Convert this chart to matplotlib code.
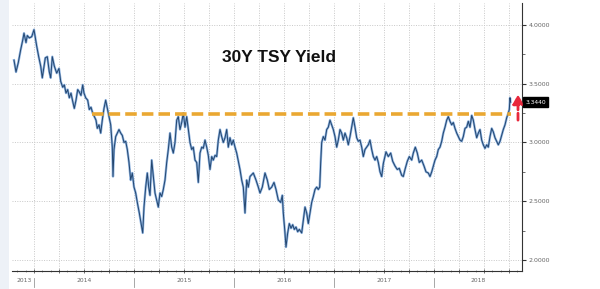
import matplotlib
matplotlib.use("Agg")
import matplotlib.pyplot as plt
import matplotlib.transforms as mtransforms
from matplotlib.patches import Rectangle
from matplotlib.ticker import MultipleLocator, FormatStrFormatter

# ---------------- data ----------------
years = [
    2013.800, 2013.820, 2013.843, 2013.867, 2013.887, 2013.900, 2013.920, 2013.933, 2013.953, 2013.977,
    2014.000, 2014.013, 2014.027, 2014.047, 2014.067, 2014.083, 2014.097, 2014.113, 2014.133, 2014.153,
    2014.167, 2014.183, 2014.203, 2014.227, 2014.250, 2014.267, 2014.287, 2014.303, 2014.320, 2014.337,
    2014.353, 2014.370, 2014.387, 2014.403, 2014.420, 2014.437, 2014.453, 2014.470, 2014.487, 2014.500,
    2014.517, 2014.537, 2014.553, 2014.570, 2014.587, 2014.603, 2014.620, 2014.633, 2014.650, 2014.667,
    2014.683, 2014.700, 2014.717, 2014.733, 2014.750, 2014.767, 2014.783, 2014.790, 2014.800, 2014.817,
    2014.833, 2014.850, 2014.867, 2014.883, 2014.900, 2014.917, 2014.933, 2014.950, 2014.967, 2014.983,
    2015.000, 2015.017, 2015.033, 2015.053, 2015.077, 2015.087, 2015.100, 2015.117, 2015.133, 2015.147,
    2015.160, 2015.177, 2015.193, 2015.210, 2015.227, 2015.243, 2015.260, 2015.277, 2015.293, 2015.310,
    2015.327, 2015.343, 2015.360, 2015.377, 2015.393, 2015.410, 2015.427, 2015.443, 2015.460, 2015.477,
    2015.493, 2015.510, 2015.527, 2015.543, 2015.560, 2015.577, 2015.593, 2015.610, 2015.627, 2015.643,
    2015.660, 2015.677, 2015.693, 2015.710, 2015.727, 2015.743, 2015.760, 2015.777, 2015.793, 2015.810,
    2015.827, 2015.843, 2015.860, 2015.877, 2015.893, 2015.910, 2015.927, 2015.943, 2015.960, 2015.977,
    2015.993, 2016.010, 2016.027, 2016.043, 2016.060, 2016.077, 2016.093, 2016.110, 2016.127, 2016.143,
    2016.160, 2016.193, 2016.220, 2016.243, 2016.260, 2016.283, 2016.310, 2016.333, 2016.353, 2016.377,
    2016.400, 2016.420, 2016.443, 2016.467, 2016.483, 2016.493, 2016.507, 2016.520, 2016.537, 2016.553,
    2016.570, 2016.587, 2016.603, 2016.620, 2016.637, 2016.653, 2016.677, 2016.693, 2016.710, 2016.727,
    2016.743, 2016.760, 2016.777, 2016.793, 2016.810, 2016.827, 2016.843, 2016.857, 2016.867, 2016.877,
    2016.893, 2016.910, 2016.927, 2016.943, 2016.960, 2016.977, 2016.993, 2017.010, 2017.027, 2017.043,
    2017.060, 2017.077, 2017.093, 2017.110, 2017.127, 2017.143, 2017.160, 2017.177, 2017.193, 2017.210,
    2017.227, 2017.243, 2017.260, 2017.277, 2017.293, 2017.310, 2017.327, 2017.343, 2017.360, 2017.377,
    2017.393, 2017.410, 2017.427, 2017.443, 2017.460, 2017.477, 2017.493, 2017.520, 2017.543, 2017.567,
    2017.587, 2017.610, 2017.633, 2017.653, 2017.677, 2017.693, 2017.710, 2017.733, 2017.753, 2017.777,
    2017.793, 2017.813, 2017.833, 2017.853, 2017.877, 2017.900, 2017.920, 2017.943, 2017.960, 2017.977,
    2017.993, 2018.010, 2018.027, 2018.043, 2018.060, 2018.077, 2018.093, 2018.110, 2018.127, 2018.143,
    2018.160, 2018.177, 2018.193, 2018.210, 2018.227, 2018.243, 2018.260, 2018.277, 2018.293, 2018.310,
    2018.327, 2018.343, 2018.360, 2018.377, 2018.393, 2018.410, 2018.427, 2018.443, 2018.460, 2018.477,
    2018.493, 2018.510, 2018.527, 2018.543, 2018.560, 2018.577, 2018.593, 2018.610, 2018.627, 2018.643,
    2018.660, 2018.677, 2018.693, 2018.710, 2018.727, 2018.743, 2018.753, 2018.760, 2018.765,
]
yields = [
    3.70, 3.60, 3.68, 3.79, 3.87, 3.93, 3.85, 3.91, 3.89, 3.90,
    3.96, 3.89, 3.82, 3.73, 3.65, 3.55, 3.63, 3.72, 3.73, 3.60,
    3.55, 3.73, 3.65, 3.59, 3.63, 3.52, 3.47, 3.49, 3.42, 3.45,
    3.38, 3.42, 3.35, 3.29, 3.36, 3.45, 3.43, 3.40, 3.49, 3.42,
    3.38, 3.36, 3.28, 3.30, 3.25, 3.22, 3.19, 3.12, 3.15, 3.08,
    3.19, 3.29, 3.36, 3.29, 3.22, 3.15, 2.96, 2.71, 2.94, 3.05,
    3.08, 3.11, 3.08, 3.06, 3.00, 3.01, 2.94, 2.83, 2.68, 2.74,
    2.62, 2.57, 2.49, 2.40, 2.28, 2.23, 2.45, 2.62, 2.74, 2.62,
    2.55, 2.85, 2.71, 2.57, 2.51, 2.45, 2.57, 2.54, 2.60, 2.68,
    2.83, 2.94, 3.08, 2.96, 2.91, 3.00, 3.19, 3.22, 3.11, 3.17,
    3.25, 3.13, 3.22, 3.11, 3.00, 2.94, 2.96, 2.85, 2.83, 2.66,
    2.91, 2.96, 2.95, 3.02, 2.96, 2.89, 2.77, 2.88, 2.85, 2.89,
    2.88, 3.02, 3.11, 3.05, 3.00, 3.04, 3.11, 2.96, 3.04, 2.98,
    3.02, 2.96, 2.91, 2.84, 2.77, 2.68, 2.62, 2.40, 2.68, 2.62,
    2.71, 2.74, 2.68, 2.62, 2.57, 2.62, 2.74, 2.68, 2.60, 2.62,
    2.66, 2.60, 2.51, 2.49, 2.55, 2.40, 2.26, 2.11, 2.23, 2.31,
    2.27, 2.30, 2.26, 2.28, 2.24, 2.26, 2.23, 2.34, 2.45, 2.40,
    2.31, 2.40, 2.49, 2.54, 2.60, 2.62, 2.60, 2.62, 2.83, 3.00,
    3.05, 3.02, 3.11, 3.13, 3.19, 3.15, 3.11, 3.05, 2.96, 3.02,
    3.11, 3.08, 3.02, 3.08, 3.04, 2.98, 3.05, 3.13, 3.21, 3.13,
    3.04, 3.01, 3.02, 2.96, 2.88, 2.94, 2.96, 2.98, 3.02, 2.94,
    2.88, 2.85, 2.88, 2.83, 2.75, 2.71, 2.82, 2.92, 2.88, 2.91,
    2.84, 2.80, 2.77, 2.78, 2.72, 2.71, 2.77, 2.84, 2.88, 2.85,
    2.91, 2.96, 2.91, 2.83, 2.85, 2.80, 2.75, 2.74, 2.71, 2.75,
    2.80, 2.85, 2.88, 2.94, 2.96, 3.01, 3.08, 3.13, 3.19, 3.22,
    3.18, 3.15, 3.17, 3.12, 3.08, 3.05, 3.02, 3.01, 3.05, 3.12,
    3.13, 3.18, 3.13, 3.23, 3.19, 3.11, 3.04, 3.08, 3.11, 3.02,
    2.98, 2.95, 2.98, 2.96, 3.05, 3.12, 3.09, 3.04, 3.01, 2.98,
    3.01, 3.06, 3.11, 3.15, 3.21, 3.25, 3.28, 3.38, 3.344,
]
resistance_level = 3.24
resistance_start = 2014.58
last_value = 3.344
arrow_from, arrow_to = 3.19, 3.41
year_labels = ["2013", "2014", "2015", "2016", "2017", "2018"]
y_ticks = [2.0, 2.5, 3.0, 3.5, 4.0]
title = "30Y TSY Yield"

# ---------------- figure ----------------
W, H = 600, 289
fig = plt.figure(figsize=(W / 100, H / 100), dpi=100)
fig.patch.set_facecolor("white")
fig.patches.append(Rectangle((0, 0), 9 / W, 1, transform=fig.transFigure,
                             facecolor="#edf1f7", edgecolor="none", zorder=0))

ax = fig.add_axes([12 / W, 18 / H, 510 / W, 268 / H])
x0, x1 = 2013.78, 2018.88
ax.set_xlim(x0, x1)
ax.set_ylim(1.906, 4.187)

for s in ["top", "left"]:
    ax.spines[s].set_visible(False)
for s in ["right", "bottom"]:
    ax.spines[s].set_color("#333333")
    ax.spines[s].set_linewidth(0.8)

# y axis on the right
ax.yaxis.tick_right()
ax.set_yticks(y_ticks)
ax.yaxis.set_major_formatter(FormatStrFormatter("%.4f"))
ax.yaxis.set_minor_locator(MultipleLocator(0.25))
ax.tick_params(axis="y", which="major", direction="out", length=3, width=0.8,
               colors="#333333", labelsize=4.5, labelcolor="#666666", pad=2)
ax.tick_params(axis="y", which="minor", direction="out", length=2, width=0.6, colors="#555555")

# x axis: quarterly grid, monthly small ticks
ax.xaxis.set_major_locator(MultipleLocator(0.25))
ax.xaxis.set_minor_locator(MultipleLocator(1 / 12))
ax.tick_params(axis="x", which="major", direction="inout", length=3, width=0.6,
               colors="#555555", labelbottom=False)
ax.tick_params(axis="x", which="minor", direction="inout", length=2, width=0.5, colors="#777777")

ax.grid(True, which="major", linestyle=(0, (1, 1.5)), color="#c8c8c8", linewidth=0.7)
ax.set_axisbelow(True)

# year separators and labels
trans = mtransforms.blended_transform_factory(ax.transData, ax.transAxes)
for lab in year_labels:
    yr = int(lab)
    lo, hi = max(yr, years[0]), min(yr + 1, x1)
    ax.text((lo + hi) / 2, -0.037, lab, transform=trans, ha="center", va="center",
            fontsize=4.3, color="#666666", clip_on=False)
    if yr > int(year_labels[0]):
        ax.plot([yr, yr], [-0.026, -0.06], transform=trans, color="#999999",
                linewidth=0.6, clip_on=False)

# series
ax.plot(years, yields, color="#8db2df", linewidth=1.7, solid_joinstyle="round", zorder=3)
ax.plot(years, yields, color="#23466f", linewidth=0.7, solid_joinstyle="round", zorder=4)

# resistance line
ax.plot([resistance_start, years[-1]], [resistance_level, resistance_level],
        color="#eaa832", linewidth=2.6, linestyle=(0, (3.2, 1.4)), zorder=5,
        dash_capstyle="butt")

# red dashed arrow
arrow_x = 2018.84
ax.annotate("", xy=(arrow_x, arrow_to), xytext=(arrow_x, arrow_from),
            arrowprops=dict(arrowstyle="-|>,head_length=0.55,head_width=0.3",
                            color="#e8283c", linewidth=2.0, linestyle=(0, (2.5, 1.2)),
                            shrinkA=0, shrinkB=0), zorder=6)

# last value tag
tag_trans = mtransforms.blended_transform_factory(ax.transAxes, ax.transData)
ax.text(1.006, last_value, f"{last_value:.4f}", transform=tag_trans, ha="left", va="center",
        fontsize=4.3, color="white", clip_on=False, zorder=7,
        bbox=dict(boxstyle="square,pad=0.35", facecolor="black", edgecolor="black"))

# title
fig.text(279 / W, 1 - 57 / H, title, ha="center", va="center", fontsize=12.5,
         fontweight="bold", family="Liberation Sans", color="#111111")

fig.savefig("out.png", dpi=100)
